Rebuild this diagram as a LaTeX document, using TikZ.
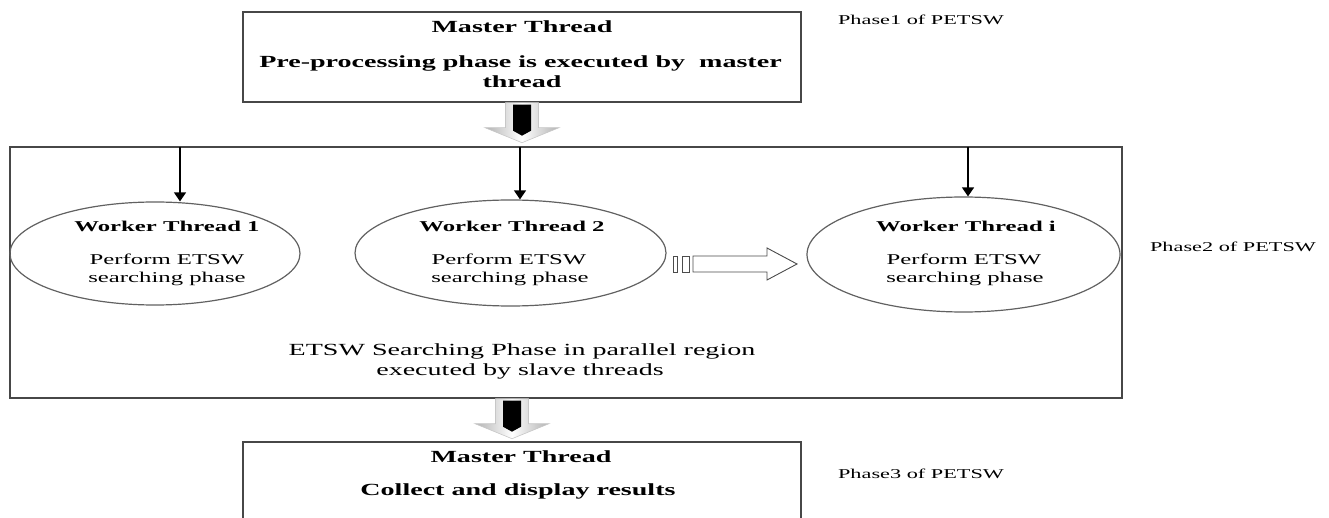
\documentclass[tikz,border=0pt]{standalone}
\usepackage{fontspec}
\setmainfont{Liberation Serif}[FakeStretch=1.65]
\usetikzlibrary{arrows.meta,shapes.geometric,calc}

\tikzset{
  frame/.style={rectangle, draw=black!72, line width=1.4pt, inner sep=0pt},
  worker/.style={ellipse, draw=black!62, line width=1.2pt, inner sep=0pt},
  txt/.style={anchor=base, inner sep=0pt},
  headbig/.style={txt, font=\fontsize{17}{20}\selectfont\bfseries},
  headsmall/.style={txt, font=\fontsize{15}{18}\selectfont\bfseries},
  bodytxt/.style={txt, font=\fontsize{15}{18}\selectfont},
  regiontxt/.style={txt, font=\fontsize{17}{20}\selectfont},
  phasetxt/.style={txt, font=\fontsize{13.5}{16}\selectfont},
  feed/.style={draw=black, line width=1.3pt, -{Triangle[width=12pt,length=9pt]}},
  stripe/.style={draw=black!70, line width=0.9pt, fill=white},
  blockdown/.pic={
    \path[left color=black!30, right color=black!30, middle color=white,
          draw=black!22, line width=0.6pt]
      (-16.5,0) -- (16.5,0) -- (16.5,25) -- (37,25) -- (0,40)
      -- (-37,25) -- (-16.5,25) -- cycle;
    \fill[black] (-9,2) -- (9,2) -- (9,28) -- (0,33) -- (-9,28) -- cycle;
  }
}

\begin{document}
\begin{tikzpicture}[x=1pt,y=-1pt]
\useasboundingbox (0,0) rectangle (1329,518);
\clip (0,0) rectangle (1329,518);

% boxes
\node[frame, minimum width=558, minimum height=90] (top) at (522,57) {};
\node[frame, minimum width=1112, minimum height=251] (region) at (566,272.5) {};
\node[frame, minimum width=558, minimum height=98] (bottom) at (522,491) {};

% master thread (pre-processing)
\node[headbig] (t1) at (522,33) {Master Thread};
\node[headbig] (t2) at (520.5,68) {Pre-processing phase is executed by~ master};
\node[headbig] (t3) at (522,88) {thread};

% worker threads
\node[worker, minimum width=290, minimum height=103] (e1) at (155,253.5) {};
\node[worker, minimum width=311, minimum height=106] (e2) at (510.5,253) {};
\node[worker, minimum width=313, minimum height=115] (ei) at (963.5,254.5) {};

\node[headsmall] (w1) at (167,232) {Worker Thread 1};
\node[bodytxt] (w1a) at (167,265) {Perform ETSW};
\node[bodytxt] (w1b) at (167,283) {searching phase};

\node[headsmall] (w2) at (512,232) {Worker Thread 2};
\node[bodytxt] (w2a) at (509,265) {Perform ETSW};
\node[bodytxt] (w2b) at (510,283) {searching phase};

\node[headsmall] (wi) at (966,232) {Worker Thread i};
\node[bodytxt] (wia) at (964,265) {Perform ETSW};
\node[bodytxt] (wib) at (965,283) {searching phase};

% region caption
\node[regiontxt] (r1) at (522,355) {ETSW Searching Phase in parallel region};
\node[regiontxt] (r2) at (520,375) {executed by slave threads};

% master thread (results)
\node[headbig] (b1) at (521,462) {Master Thread};
\node[headbig] (b2) at (518,495) {Collect and display results};

% phase labels
\node[phasetxt] (p1) at (921,25) {Phase1 of PETSW};
\node[phasetxt] (p2) at (1233,252) {Phase2 of PETSW};
\node[phasetxt] (p3) at (921,478) {Phase3 of PETSW};

% fork arrows into the workers
\coordinate (f1) at (180,147);
\coordinate (f2) at (520,147);
\coordinate (fi) at (968,147);
\draw[feed] (f1) -- (f1 |- e1.north);
\draw[feed] (f2) -- (f2 |- e2.north);
\draw[feed] (fi) -- (fi |- ei.north);

% striped arrow between worker 2 and worker i
\draw[stripe] (673,256) rectangle (677,272);
\draw[stripe] (682,256) rectangle (689,272);
\draw[stripe] (693,256) -- (767,256) -- (767,248) -- (797,264)
  -- (767,280) -- (767,272) -- (693,272) -- cycle;

% block arrows between phases
\pic at (top.south) {blockdown};
\pic at ($(bottom.north |- region.south)+(-10,0)$) {blockdown};
\end{tikzpicture}
\end{document}
